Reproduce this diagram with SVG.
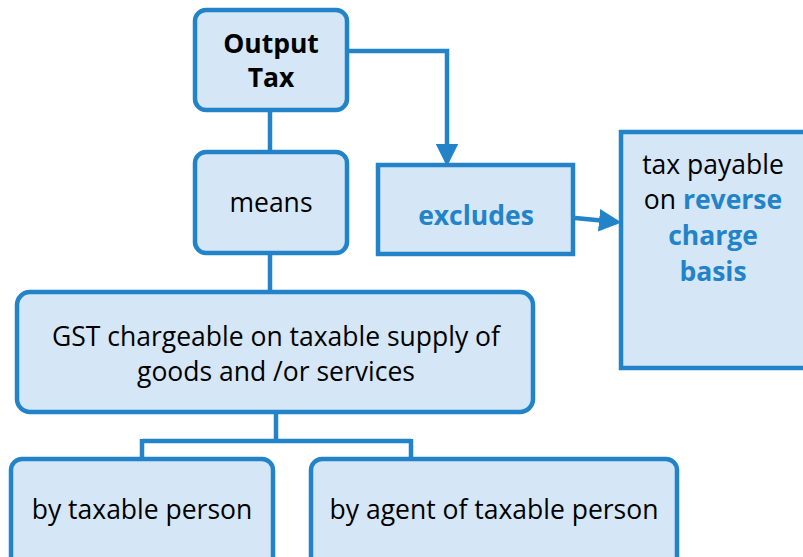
<svg xmlns="http://www.w3.org/2000/svg" width="803" height="557" viewBox="0 0 803 557">
<style>
.box{fill:#D5E6F6;stroke:#2283C9;stroke-width:4.5}
.t{font-family:"Open Sans","Noto Sans",sans-serif;font-size:26.5px;fill:#000;text-anchor:middle}
.b{font-weight:bold}
.blue{fill:#2283C9;font-weight:bold}
.line{fill:none;stroke:#2283C9;stroke-width:4.5}
</style>
<defs>
<marker id="arr" markerWidth="5" markerHeight="5" refX="4" refY="2.5" orient="auto" markerUnits="strokeWidth">
<path d="M0,0 L5,2.5 L0,5 Z" fill="#2283C9"/>
</marker>
</defs>
<g id="connectors">
<path class="line" d="M270,110 V152"/>
<path class="line" d="M270,253 V292"/>
<path class="line" d="M347,51 H447 V162" marker-end="url(#arr)"/>
<path class="line" d="M575,218 L617,222" marker-end="url(#arr)"/>
<path class="line" d="M276,413 V441 M142,441 H411 M142,439 V458 M411,439 V458"/>
</g>
<g id="output-tax">
<rect class="box" x="195" y="10" width="152" height="100" rx="11"/>
<text class="t b" x="271" y="53">Output</text>
<text class="t b" x="271" y="87">Tax</text>
</g>
<g id="means">
<rect class="box" x="195" y="152" width="152" height="101" rx="11"/>
<text class="t" x="271" y="212">means</text>
</g>
<g id="excludes">
<rect class="box" x="378" y="165" width="195" height="89"/>
<text class="t blue" x="476" y="225">excludes</text>
</g>
<g id="reverse-charge">
<rect class="box" x="621" y="132" width="190" height="236"/>
<text class="t" x="713" y="174">tax payable</text>
<text class="t" x="713" y="209">on <tspan class="blue">reverse</tspan></text>
<text class="t blue" x="713" y="245">charge</text>
<text class="t blue" x="713" y="281">basis</text>
</g>
<g id="gst">
<rect class="box" x="17" y="292" width="516" height="120" rx="13"/>
<text class="t" x="276" y="346">GST chargeable on taxable supply of</text>
<text class="t" x="276" y="381">goods and /or services</text>
</g>
<g id="by-taxable-person">
<rect class="box" x="11" y="459" width="262" height="110" rx="11"/>
<text class="t" x="142" y="519">by taxable person</text>
</g>
<g id="by-agent">
<rect class="box" x="311" y="459" width="366" height="110" rx="11"/>
<text class="t" x="494" y="519">by agent of taxable person</text>
</g>
</svg>
